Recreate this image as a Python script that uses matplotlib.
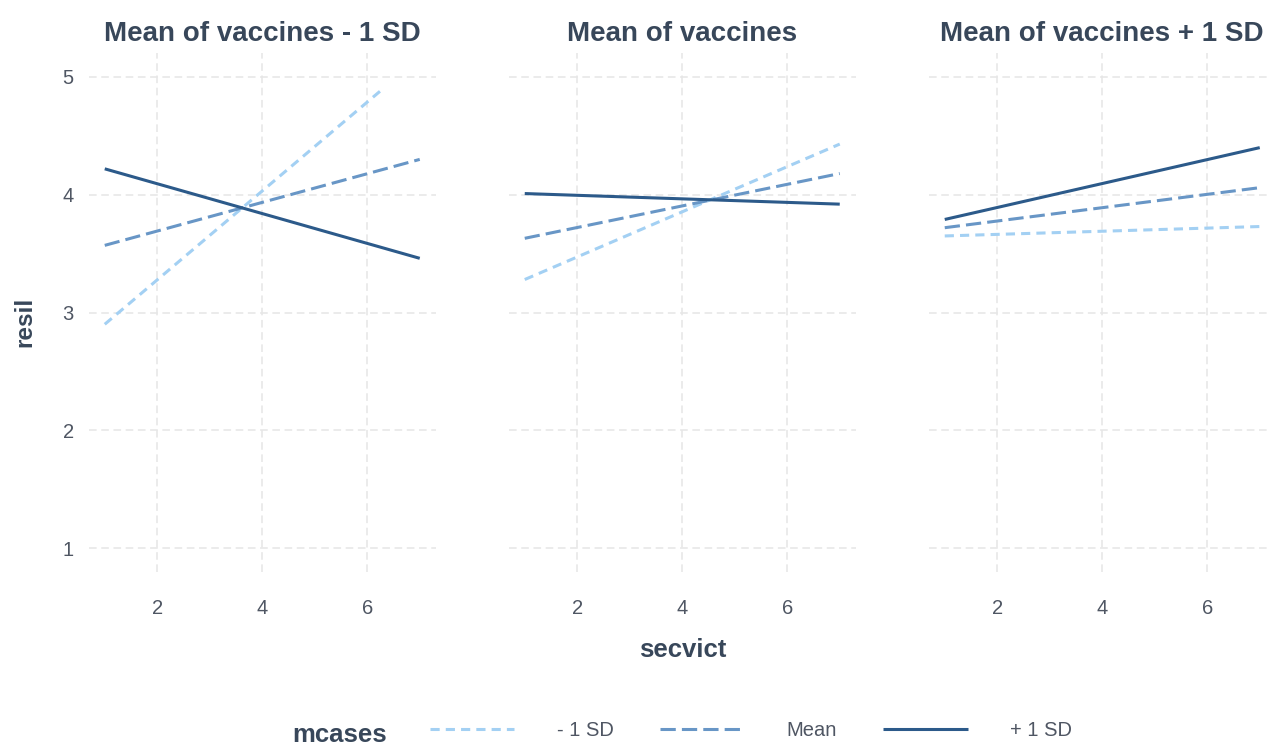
import matplotlib.pyplot as plt

# facet titles, legend levels
panel_titles = ["Mean of vaccines - 1 SD", "Mean of vaccines", "Mean of vaccines + 1 SD"]
levels = ["- 1 SD", "Mean", "+ 1 SD"]

# secvict range per line (the -1 SD line in the first panel leaves the plot above 5)
x_low = [[1, 6.3], [1, 7], [1, 7]]
x_mean = [[1, 7], [1, 7], [1, 7]]
x_high = [[1, 7], [1, 7], [1, 7]]

# predicted resil at the ends of each line
resil_low = [[2.90, 4.90], [3.28, 4.43], [3.65, 3.73]]
resil_mean = [[3.57, 4.30], [3.63, 4.18], [3.72, 4.06]]
resil_high = [[4.22, 3.46], [4.01, 3.92], [3.79, 4.40]]

colors = ["#A3D0F3", "#6896C6", "#2C5A8A"]
styles = [(0, (3, 2)), (0, (5, 2)), "-"]
title_col = "#38475A"
tick_col = "#4F5663"
grid_col = "#E6E6E6"

plt.rcParams['font.family'] = ['Liberation Sans', 'DejaVu Sans']

fig = plt.figure(figsize=(12.7, 7.47), dpi=100)

W, H = 1270, 747
lefts = [89, 509, 929]
pw = 346.5
top_px, bot_px = 53.4, 571.6

handles = []
for i in range(3):
    ax = fig.add_axes([lefts[i] / W, 1 - bot_px / H, pw / W, (bot_px - top_px) / H])
    ax.set_xlim(0.7, 7.3)
    ax.set_ylim(0.8, 5.2)
    ax.set_xticks([2, 4, 6])
    ax.set_yticks([1, 2, 3, 4, 5])
    ax.grid(True, color=grid_col, linestyle=(0, (5, 3)), linewidth=1.1)
    ax.set_axisbelow(True)
    for s in ax.spines.values():
        s.set_visible(False)
    ax.tick_params(length=0, labelsize=14.5, colors=tick_col)
    ax.tick_params(axis='x', pad=20)
    ax.tick_params(axis='y', pad=11)
    if i > 0:
        ax.set_yticklabels([])
    ax.set_title(panel_titles[i], fontsize=20, fontweight='bold', color=title_col, pad=9)

    series = [(x_low[i], resil_low[i]), (x_mean[i], resil_mean[i]), (x_high[i], resil_high[i])]
    hs = []
    for k, (xs, ys) in enumerate(series):
        h, = ax.plot(xs, ys, color=colors[k], linestyle=styles[k], linewidth=2.2,
                     solid_capstyle='butt', dash_capstyle='butt')
        hs.append(h)
    if i == 0:
        handles = hs

fig.text(25 / W, 1 - 322 / H, "resil", rotation=90, ha='center', va='center',
         fontsize=17.5, fontweight='bold', color=title_col)
fig.text(683 / W, 1 - 650 / H, "secvict", ha='center', va='center',
         fontsize=18.5, fontweight='bold', color=title_col)

fig.text(340 / W, 1 - 735 / H, "mcases", ha='center', va='center',
         fontsize=18.5, fontweight='bold', color=title_col)
leg = fig.legend(handles, levels, loc='center', bbox_to_anchor=(751 / W, 1 - 731 / H),
                 ncol=3, frameon=False, fontsize=14.5, handlelength=4.2,
                 handletextpad=2.1, columnspacing=2.3)
for t in leg.get_texts():
    t.set_color(tick_col)

fig.savefig("out.png", dpi=100)
